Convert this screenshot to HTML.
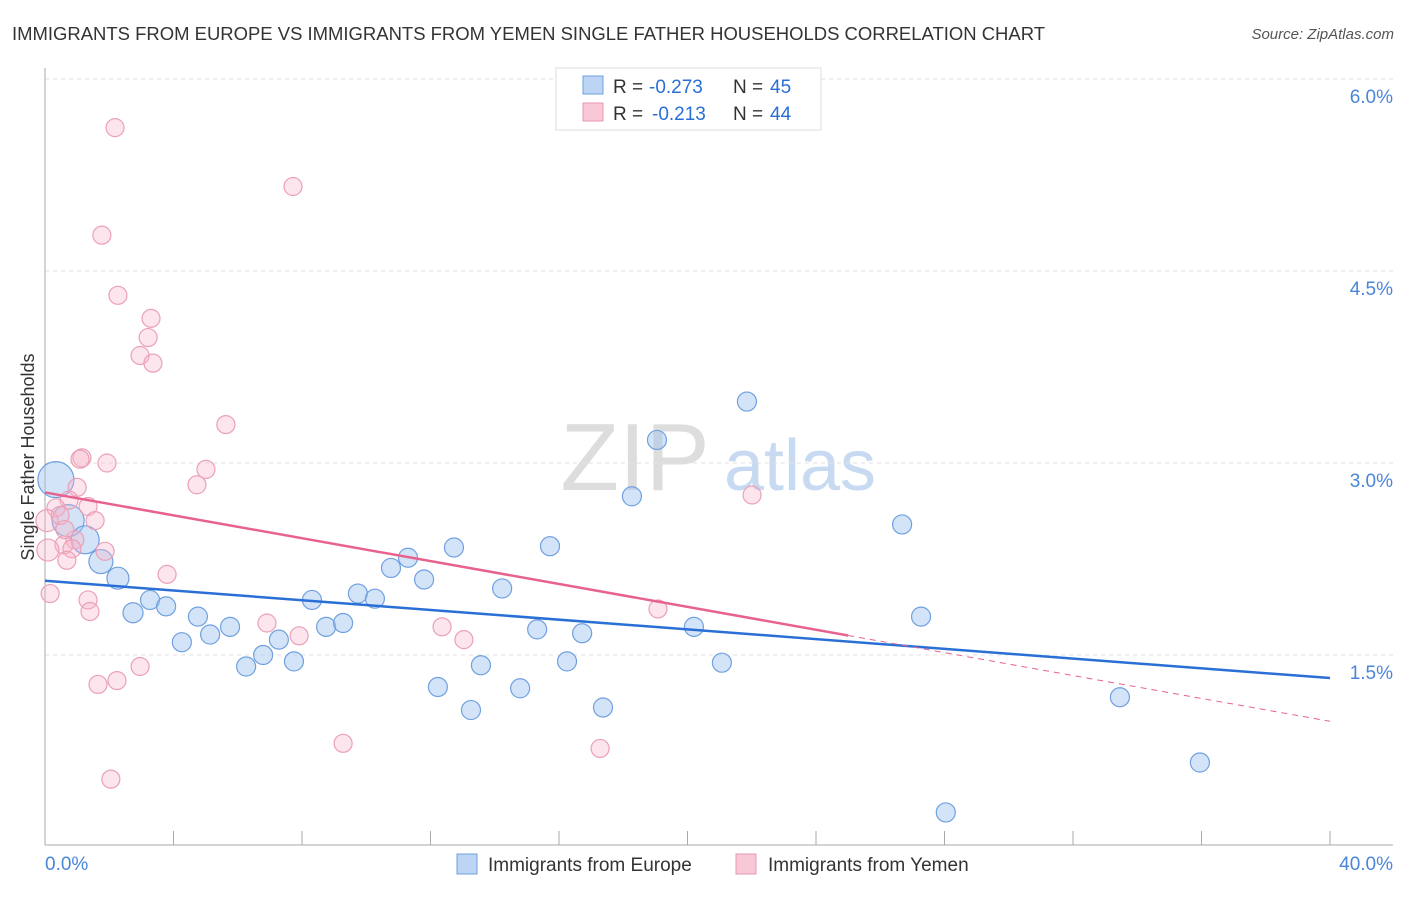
<!DOCTYPE html>
<html><head><meta charset="utf-8"><style>
body{margin:0;background:#fff;font-family:"Liberation Sans",sans-serif;}
svg text{font-family:"Liberation Sans",sans-serif;}
</style></head><body>
<svg id="chart" width="1406" height="892">
<text x="12" y="40" font-size="18" fill="#333" textLength="1033" lengthAdjust="spacingAndGlyphs">IMMIGRANTS FROM EUROPE VS IMMIGRANTS FROM YEMEN SINGLE FATHER HOUSEHOLDS CORRELATION CHART</text>
<text x="1394" y="39" font-size="15" fill="#555" font-style="italic" text-anchor="end">Source: ZipAtlas.com</text>
<text x="34" y="457" font-size="18" fill="#333" text-anchor="middle" transform="rotate(-90 34 457)">Single Father Households</text>
<g><text x="635" y="490" font-size="96" fill="#ddd" font-family="Liberation Serif" text-anchor="middle">ZIP</text><text x="800" y="490" font-size="72" fill="#c8daf2" text-anchor="middle">atlas</text></g>
<g id="grid"></g><g id="axes"></g><g id="marks"></g><g id="lines"></g>
<g>
<rect x="556" y="68" width="265" height="62" fill="#fff" stroke="#ddd"/>
<rect x="583" y="76" width="20" height="18" fill="#bcd5f5" stroke="#6fa0e0"/>
<text x="613" y="93" font-size="19" fill="#333">R =</text><text x="649" y="93" font-size="19" fill="#2a6fd6">-0.273</text>
<text x="733" y="93" font-size="19" fill="#333">N =</text><text x="770" y="93" font-size="19" fill="#2a6fd6">45</text>
<rect x="583" y="103" width="20" height="18" fill="#f8c8d6" stroke="#e897b0"/>
<text x="613" y="120" font-size="19" fill="#333">R =</text><text x="652" y="120" font-size="19" fill="#2a6fd6">-0.213</text>
<text x="733" y="120" font-size="19" fill="#333">N =</text><text x="770" y="120" font-size="19" fill="#2a6fd6">44</text>
</g>
<g>
<rect x="457" y="854" width="20" height="20" fill="#bcd5f5" stroke="#6fa0e0"/>
<text x="488" y="871" font-size="19" fill="#333">Immigrants from Europe</text>
<rect x="736" y="854" width="20" height="20" fill="#f8c8d6" stroke="#e897b0"/>
<text x="768" y="871" font-size="19" fill="#333">Immigrants from Yemen</text>
</g>
</svg>
<script>
const blueX=[0.34,0.72,1.25,1.74,2.27,2.74,3.27,3.77,4.26,4.76,5.14,5.76,6.26,6.79,7.28,7.75,8.31,8.75,9.28,9.74,10.27,10.77,11.30,11.80,12.23,12.73,13.26,13.57,14.23,14.79,15.32,15.72,16.25,16.72,17.37,18.27,19.05,20.20,21.07,21.85,26.68,27.27,33.46,35.95,28.04];
const blueY=[2.87,2.55,2.40,2.23,2.10,1.83,1.93,1.88,1.60,1.80,1.66,1.72,1.41,1.50,1.62,1.45,1.93,1.72,1.75,1.98,1.94,2.18,2.26,2.09,1.25,2.34,1.07,1.42,2.02,1.24,1.70,2.35,1.45,1.67,1.09,2.74,3.18,1.72,1.44,3.48,2.52,1.80,1.17,0.66,0.27];
const blueSize=[18,16,14,12,11,10];
const pinkX=[2.18,7.72,1.77,2.27,3.30,3.21,2.96,3.36,5.63,1.15,1.09,1.93,5.01,4.73,1.00,22.01,0.75,1.34,0.34,0.06,1.56,0.93,0.59,1.87,0.84,0.09,0.68,3.80,0.16,1.34,1.40,19.08,6.91,12.36,7.91,13.04,2.96,2.24,1.65,9.28,17.28,2.05,0.47,0.62];
const pinkY=[5.62,5.16,4.78,4.31,4.13,3.98,3.84,3.78,3.30,3.04,3.03,3.00,2.95,2.83,2.81,2.75,2.71,2.66,2.65,2.55,2.55,2.40,2.36,2.31,2.33,2.32,2.24,2.13,1.98,1.93,1.84,1.86,1.75,1.72,1.65,1.62,1.41,1.30,1.27,0.81,0.77,0.53,2.59,2.48];
const pinkSizeIdx=[19,25];const pinkSizeVal=[11,11];
const blueTrend=[2.08,-0.019];
const pinkTrend=[2.77,-0.0447];
const yTicks=[1.5,3.0,4.5,6.0];
const xTickLabels=["0.0%","40.0%"];
const NS="http://www.w3.org/2000/svg";
const sx=v=>45+v/40*1285, sy=v=>847-v*128;
function mk(tag,attrs,parent){const e=document.createElementNS(NS,tag);for(const k in attrs)e.setAttribute(k,attrs[k]);document.getElementById(parent).appendChild(e);return e;}
yTicks.forEach(t=>{
 const g=mk('line',{x1:45,x2:1393,y1:sy(t),y2:sy(t),stroke:'#e2e2e2','stroke-dasharray':'4,4'},'grid');
 
 
 const l=mk('text',{x:1393,y:sy(t)+24,'font-size':19,fill:'#4a86d8','text-anchor':'end'},'grid');
 l.textContent=t.toFixed(1)+'%';
 
 
});
mk('line',{x1:45,x2:45,y1:68,y2:845,stroke:'#aaa'},'axes');
mk('line',{x1:45,x2:1393,y1:845,y2:845,stroke:'#aaa'},'axes');
for(let i=1;i<=10;i++){const x=sx(i*4);mk('line',{x1:x,x2:x,y1:831,y2:845,stroke:'#aaa'},'axes');}
[0,40].forEach((v,i)=>{const t=mk('text',{x:i?1393:45,y:870,'font-size':19,fill:'#4a86d8','text-anchor':i?'end':'start'},'axes');t.textContent=xTickLabels[i];
 
 });
blueX.forEach((x,i)=>{
 const c=mk('circle',{cx:sx(x),cy:sy(blueY[i]),r:blueSize[i]||9.5,fill:'rgba(160,196,240,0.45)',stroke:'#6fa0e0','stroke-width':1.2},'marks');
 
 
});
pinkX.forEach((x,i)=>{
 const k=pinkSizeIdx.indexOf(i);
 const c=mk('circle',{cx:sx(x),cy:sy(pinkY[i]),r:k>=0?pinkSizeVal[k]:9,fill:'rgba(245,180,200,0.35)',stroke:'#eba0b8','stroke-width':1.2},'marks');
 
 
});
const f=(t,x)=>t[0]+t[1]*x;
let b=mk('line',{x1:sx(0),y1:sy(f(blueTrend,0)),x2:sx(40),y2:sy(f(blueTrend,40)),stroke:'#2a6fd6','stroke-width':2.5},'lines');


let p=mk('line',{x1:sx(0),y1:sy(f(pinkTrend,0)),x2:sx(25),y2:sy(f(pinkTrend,25)),stroke:'#e8628e','stroke-width':2.5},'lines');


let pd=mk('line',{x1:sx(25),y1:sy(f(pinkTrend,25)),x2:sx(40),y2:sy(f(pinkTrend,40)),stroke:'#e8628e','stroke-width':1,'stroke-dasharray':'6,5'},'lines');


</script>
</body></html>
